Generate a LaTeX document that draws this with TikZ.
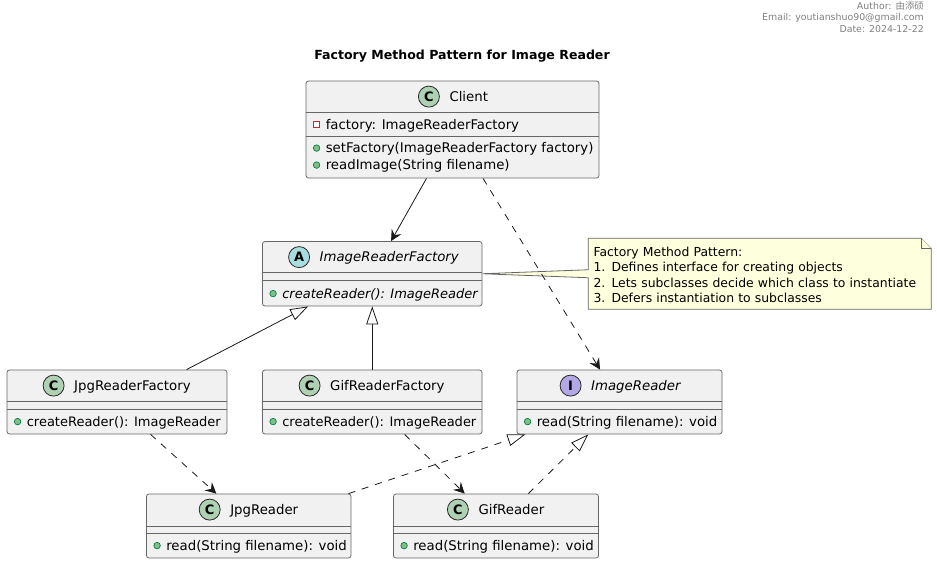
\documentclass[tikz,border=0pt]{standalone}
\usepackage{fontspec}
\setmainfont{DejaVu Sans}
\newfontfamily\cjkfont{Noto Sans CJK SC}
\usetikzlibrary{arrows.meta,positioning}
\definecolor{boxfill}{HTML}{F1F1F1}
\definecolor{notefill}{HTML}{FEFFDD}
\definecolor{spotc}{HTML}{ADD1B2}
\definecolor{spota}{HTML}{A9DCDF}
\definecolor{spoti}{HTML}{B4A7E5}
\definecolor{pubfill}{HTML}{84BE84}
\definecolor{publine}{HTML}{038048}
\definecolor{privline}{HTML}{C82930}
\newcommand{\tightfont}{\fontsize{13}{15}\selectfont}
\tikzstyle{classbox}=[draw=black!60,fill=boxfill,line width=0.8pt,rounded corners=2.5pt,inner sep=0pt]
\tikzstyle{divider}=[draw=black!60,line width=0.8pt]
\tikzstyle{spot}=[circle,draw=black!85,line width=0.8pt,minimum size=21pt,inner sep=0pt,font=\fontsize{13}{13}\selectfont\bfseries]
\tikzstyle{classname}=[inner sep=0pt,text height=12pt,text depth=3pt,font=\fontsize{13.3}{15}\selectfont]
\tikzstyle{member}=[anchor=west,inner sep=0pt,text height=12pt,text depth=3pt,font=\fontsize{13.3}{15}\selectfont]
\tikzstyle{pubicon}=[circle,draw=publine,fill=pubfill,line width=0.7pt,minimum size=6.5pt,inner sep=0pt]
\tikzstyle{privicon}=[rectangle,draw=privline,fill=white,line width=1pt,minimum size=6.5pt,inner sep=0pt]
\tikzstyle{use}=[draw,black!90,line width=0.8pt,-{Stealth[length=11pt,width=11pt,inset=4pt]}]
\tikzstyle{depend}=[use,dash pattern=on 7pt off 7pt]
\tikzstyle{extend}=[draw,black!90,line width=0.8pt,-{Triangle[open,fill=white,length=18pt,width=12pt]}]
\tikzstyle{realize}=[extend,dash pattern=on 7pt off 7pt]
\tikzstyle{notebox}=[inner sep=0pt,text width=342.5pt,minimum height=70.5pt]
\tikzstyle{notetext}=[inner sep=0pt,text width=332.5pt,align=left,font=\fontsize{12.4}{15.3}\selectfont]
\tikzstyle{noteline}=[draw=black!60,fill=notefill,line width=0.8pt]
\begin{document}
\begin{tikzpicture}[x=1pt,y=-1pt]
    \useasboundingbox (0,0) rectangle (937,564);
    % Header and title
    \node[anchor=north east,inner sep=0pt,align=right,text=black!50,font=\fontsize{9.4}{11.6}\selectfont] (header) at (924,1.2)
        {Author: {\cjkfont 由添硕}\\Email: youtianshuo90@gmail.com\\Date: 2024-12-22};
    \node[inner sep=0pt,font=\fontsize{12.55}{14}\selectfont\bfseries] (title) at (462,56) {Factory Method Pattern for Image Reader};
    % First we draw the class boxes
    \foreach \pos/\name/\bw/\bh in {{(452.5,129.5)/client/293/97}, {(372.25,273.75)/irf/219.5/64.5},
        {(117,402)/jf/220/64}, {(372.25,402)/gf/219.5/64}, {(619.5,402)/ir/205/64},
        {(248.75,526)/jr/204.5/64}, {(496,526)/gr/205/64}}
        \node[classbox,minimum width=\bw pt,minimum height=\bh pt] (\name) at \pos {};
    % Two rules in each box
    \foreach \name/\one/\two in {client/31.7/56, irf/31.5/39.5, jf/32/40, gf/32/40, ir/32/40, jr/32.5/40, gr/32.5/40}{
        \path[divider] ([yshift=-\one pt]\name.north west) -- ([yshift=-\one pt]\name.north east);
        \path[divider] ([yshift=-\two pt]\name.north west) -- ([yshift=-\two pt]\name.north east);
    }
    % Class heads
    \foreach \name/\off/\letter/\col/\txt in {client/123.3/C/spotc/Client, irf/37/A/spota/\textit{ImageReaderFactory},
        jf/47/C/spotc/JpgReaderFactory, gf/47.5/C/spotc/GifReaderFactory, ir/54/I/spoti/\textit{ImageReader},
        jr/63.6/C/spotc/JpgReader, gr/64.8/C/spotc/GifReader}{
        \node[spot,fill=\col] (\name-spot) at ([shift={(\off,16)}]\name.north west) {\letter};
        \node[classname,right=9.5pt of \name-spot] (\name-title) {\txt};
    }
    % Members
    \foreach \name/\tag/\dy/\txt in {client/a/67.5/setFactory(ImageReaderFactory factory), client/b/84.5/readImage(String filename),
        irf/a/52.5/{\tightfont\textit{createReader(): ImageReader}}, jf/a/52/{\tightfont createReader(): ImageReader}, gf/a/52/{\tightfont createReader(): ImageReader},
        ir/a/52/read(String filename): void, jr/a/52/read(String filename): void, gr/a/52/read(String filename): void}{
        \node[pubicon] (\name-\tag-icon) at ([shift={(11,\dy)}]\name.north west) {};
        \node[member] (\name-\tag) at ([shift={(20,\dy)}]\name.north west) {\txt};
    }
    \node[privicon] (client-p-icon) at ([shift={(11,44)}]client.north west) {};
    \node[member] (client-p) at ([shift={(20,44)}]client.north west) {factory: ImageReaderFactory};
    % The note
    \node[notebox] (note) at (759.75,273.75) {};
    \path[noteline] (irf.east) -- ([yshift=4pt]note.west) -- (note.north west) -- ([xshift=-10pt]note.north east)
        -- ([yshift=-10pt]note.north east) -- (note.south east) -- (note.south west) -- ([yshift=-4pt]note.west) -- cycle;
    \path[noteline] ([xshift=-10pt]note.north east) -- ([xshift=-10pt,yshift=-10pt]note.north east) -- ([yshift=-10pt]note.north east);
    \node[notetext,yshift=-1pt] (note-text) at (note) {Factory Method Pattern:\\1. Defines interface for creating objects\\2. Lets subclasses decide which class to instantiate\\3. Defers instantiation to subclasses};
    % Connect classes with edges
    \path[use] (client.-118.6) -- (irf.60.2);
    \foreach \source/\dest/\kind in {client.-58.7/ir.121.4/depend, jf.-44.1/jr.135.7/depend, gf.-45.2/gr.134/depend,
        jf.25.9/irf.-153.3/extend, gf.north/irf.south/extend, jr.18.4/ir.-161.3/realize, gr.45.9/ir.-134.6/realize}
        \path[\kind] (\source) -- (\dest);
\end{tikzpicture}
\end{document}
